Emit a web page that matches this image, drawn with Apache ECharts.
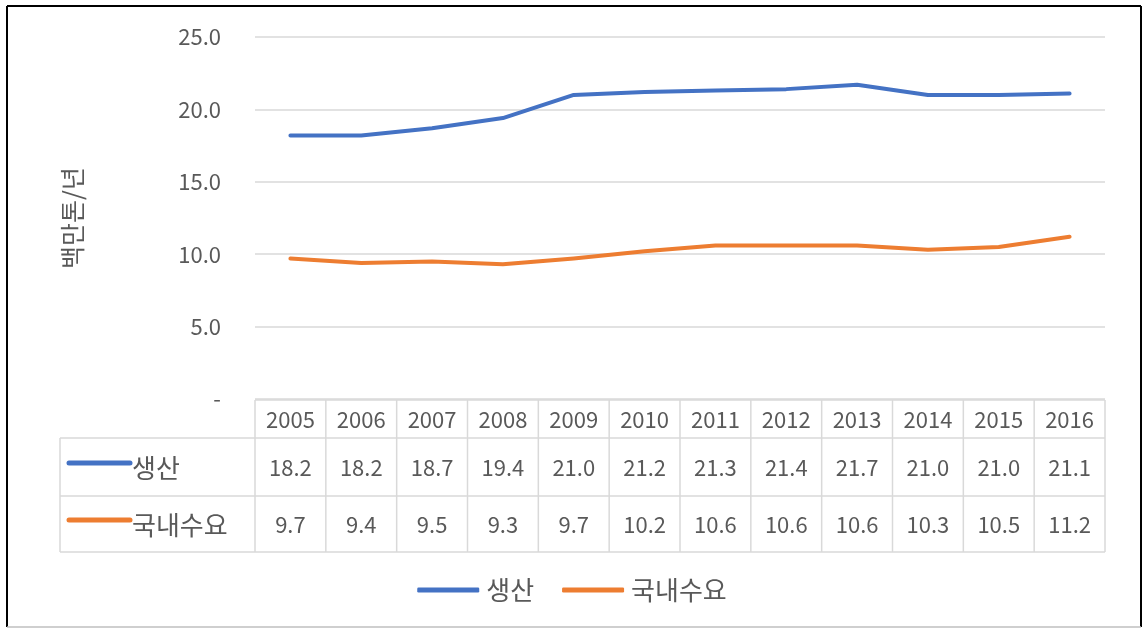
<!DOCTYPE html>
<html>
<head>
<meta charset="utf-8">
<script src="https://cdn.jsdelivr.net/npm/echarts@6/dist/echarts.min.js"></script>
<style>
  html, body { margin: 0; padding: 0; background: #fff; }
  #main { width: 1144px; height: 629px; }
</style>
</head>
<body>
<div id="main"></div>
<script>
// Korean production vs. domestic demand, million tonnes per year
const years = ['2005', '2006', '2007', '2008', '2009', '2010', '2011', '2012', '2013', '2014', '2015', '2016'];
const production = [18.2, 18.2, 18.7, 19.4, 21.0, 21.2, 21.3, 21.4, 21.7, 21.0, 21.0, 21.1];
const demand = [9.7, 9.4, 9.5, 9.3, 9.7, 10.2, 10.6, 10.6, 10.6, 10.3, 10.5, 11.2];
const seriesNames = ['생산', '국내수요'];
const seriesColors = ['#4472C4', '#ED7D31'];
const unitLabel = '백만톤/년';

const FONT = '"Noto Sans CJK KR", "Noto Sans", sans-serif';
const TEXT = '#595959';
const RULE = '#d9d9d9';
const NUM_SIZE = 22;
const HANGUL_SIZE = 26;

const chart = echarts.init(document.getElementById('main'));

chart.setOption({
  animation: false,
  textStyle: { fontFamily: FONT },
  grid: { left: 255, right: 39, top: 37, bottom: 230 },
  xAxis: { type: 'category', data: years, boundaryGap: true, show: false },
  yAxis: {
    type: 'value', min: 0, max: 25, interval: 5,
    name: unitLabel, nameLocation: 'middle', nameRotate: 90, nameGap: 170,
    nameTextStyle: { color: TEXT, fontSize: 25, fontFamily: FONT },
    axisLine: { show: false }, axisTick: { show: false },
    axisLabel: {
      margin: 34, color: TEXT, fontSize: NUM_SIZE, fontFamily: FONT,
      formatter: v => (v === 0 ? '-' : v.toFixed(1))
    },
    splitLine: { lineStyle: { color: RULE, width: 1.5 } }
  },
  legend: {
    bottom: 21, left: 'center', itemGap: 28,
    itemWidth: 62, itemHeight: 5, icon: 'roundRect',
    textStyle: { color: TEXT, fontSize: HANGUL_SIZE, fontFamily: FONT, padding: [0, 0, 0, 2] },
    data: seriesNames
  },
  series: [
    { name: seriesNames[0], type: 'line', data: production, showSymbol: false, symbol: 'none',
      color: seriesColors[0], lineStyle: { width: 4, cap: 'round', join: 'round' } },
    { name: seriesNames[1], type: 'line', data: demand, showSymbol: false, symbol: 'none',
      color: seriesColors[1], lineStyle: { width: 4, cap: 'round', join: 'round' } }
  ]
});

// Data table under the plot, aligned with the category columns
function buildTable() {
  const cx = years.map((_, i) => chart.convertToPixel({ xAxisIndex: 0 }, i));
  const colW = cx[1] - cx[0];
  const tLeft = cx[0] - colW / 2;
  const tRight = cx[cx.length - 1] + colW / 2;
  const y0 = chart.convertToPixel({ yAxisIndex: 0 }, 0) + 1;
  const rowH = [38, 58, 56];
  const rowY = [y0, y0 + rowH[0], y0 + rowH[0] + rowH[1], y0 + rowH[0] + rowH[1] + rowH[2]];
  const labelLeft = 60;
  const els = [];
  const line = (x1, y1, x2, y2, color, w) => els.push({
    type: 'line', silent: true,
    shape: { x1, y1, x2, y2 },
    style: { stroke: color || RULE, lineWidth: w || 1.5 }
  });
  const text = (x, y, str, size, align) => els.push({
    type: 'text', silent: true, x, y,
    style: { text: str, fill: TEXT, font: size + 'px ' + FONT, align: align || 'center', verticalAlign: 'middle' }
  });

  line(tLeft, rowY[0], tRight, rowY[0]);
  for (let r = 1; r < 4; r++) line(labelLeft, rowY[r], tRight, rowY[r]);
  line(labelLeft, rowY[1], labelLeft, rowY[3]);
  for (let c = 0; c <= years.length; c++) {
    const x = tLeft + c * colW;
    line(x, rowY[0], x, rowY[3]);
  }

  const rows = [production, demand];
  years.forEach((yr, i) => {
    text(cx[i], (rowY[0] + rowY[1]) / 2 + 1, yr, NUM_SIZE);
    rows.forEach((vals, r) => {
      text(cx[i], (rowY[r + 1] + rowY[r + 2]) / 2 + 1, vals[i].toFixed(1), NUM_SIZE);
    });
  });
  seriesNames.forEach((nm, r) => {
    const yc = (rowY[r + 1] + rowY[r + 2]) / 2 - 4;
    els.push({
      type: 'line', silent: true,
      shape: { x1: 69, y1: yc, x2: 130, y2: yc },
      style: { stroke: seriesColors[r], lineWidth: 5, lineCap: 'round' }
    });
    text(132, yc + 5, nm, HANGUL_SIZE, 'left');
  });

  // frame around the whole figure
  line(7, 6, 1141, 6, '#000', 2);
  line(7, 6, 7, 627, '#000', 2);
  line(1141, 6, 1141, 627, '#000', 2);
  line(7, 627, 1141, 627, '#bfbfbf', 1.5);

  chart.setOption({ graphic: { elements: els } });
}
buildTable();
</script>
</body>
</html>
